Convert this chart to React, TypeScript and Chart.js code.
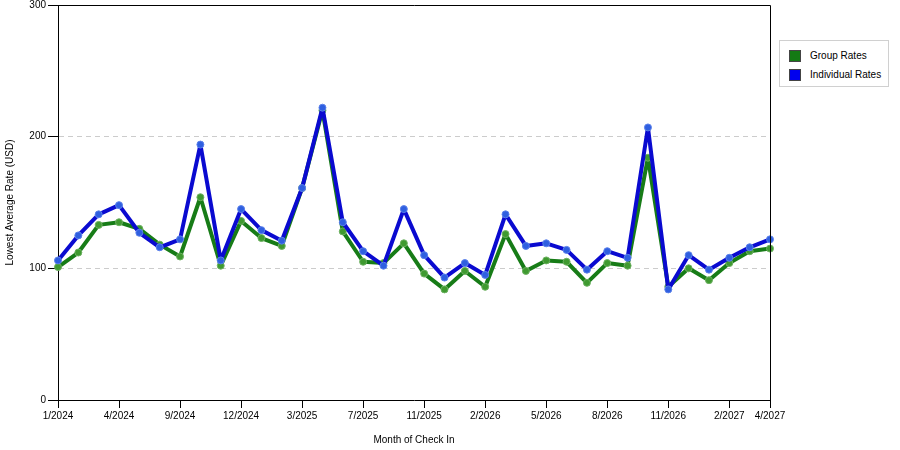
import { useEffect, useRef } from 'react';
import { Chart, ChartConfiguration, Plugin, registerables } from 'chart.js';

Chart.register(...registerables);

// Month labels along the x axis (only every third one is shown, plus the last)
const months = [
  '1/2024', '2/2024', '3/2024', '4/2024', '6/2024', '8/2024',
  '9/2024', '10/2024', '11/2024', '12/2024', '1/2025', '2/2025',
  '3/2025', '4/2025', '5/2025', '7/2025', '8/2025', '9/2025',
  '11/2025', '12/2025', '1/2026', '2/2026', '3/2026', '4/2026',
  '5/2026', '6/2026', '7/2026', '8/2026', '9/2026', '10/2026',
  '11/2026', '12/2026', '1/2027', '2/2027', '3/2027', '4/2027',
];

const groupRates = [
  101, 112, 133, 135, 130, 118, 109, 154, 102, 136, 123, 117,
  161, 220, 128, 105, 104, 119, 96, 84, 98, 86, 126, 98,
  106, 105, 89, 104, 102, 184, 86, 100, 91, 104, 113, 115,
];

const individualRates = [
  106, 125, 141, 148, 127, 116, 122, 194, 106, 145, 129, 121,
  161, 222, 135, 113, 102, 145, 110, 93, 104, 95, 141, 117,
  119, 114, 99, 113, 108, 207, 84, 110, 99, 108, 116, 122,
];

const yTicks = [0, 100, 200, 300];

const GREEN = '#177c17';
const BLUE = '#0a0ad0';
const FONT = { family: '"Liberation Sans", Arial, sans-serif', size: 10 };

// top and right edges of the plot box
const frame: Plugin = {
  id: 'frame',
  afterDraw(chart) {
    const { ctx, chartArea } = chart;
    const r = Math.round(chartArea.right) + 0.5;
    const t = Math.round(chartArea.top) + 0.5;
    ctx.save();
    ctx.strokeStyle = '#000';
    ctx.lineWidth = 1;
    ctx.beginPath();
    ctx.moveTo(chartArea.left, t);
    ctx.lineTo(r, t);
    ctx.lineTo(r, chartArea.bottom);
    ctx.stroke();
    ctx.restore();
  },
};

function RatesChart() {
  const canvasRef = useRef<HTMLCanvasElement>(null);
  const chartRef = useRef<Chart | null>(null);

  useEffect(() => {
    if (!canvasRef.current) return;
    if (chartRef.current) chartRef.current.destroy();

    const lastIndex = months.length - 1;

    const config: ChartConfiguration = {
      type: 'line',
      data: {
        labels: months,
        datasets: [
          {
            label: 'Group Rates',
            data: groupRates,
            borderColor: GREEN,
            borderWidth: 4,
            borderJoinStyle: 'round',
            pointRadius: 3.5,
            pointBackgroundColor: '#3f9a30',
            pointBorderColor: '#6cb060',
            pointBorderWidth: 1,
            tension: 0,
            order: 2,
          },
          {
            label: 'Individual Rates',
            data: individualRates,
            borderColor: BLUE,
            borderWidth: 4,
            borderJoinStyle: 'round',
            pointRadius: 3.5,
            pointBackgroundColor: '#2f5fe0',
            pointBorderColor: '#5a80ea',
            pointBorderWidth: 1,
            tension: 0,
            order: 1,
          },
        ],
      },
      options: {
        animation: false,
        responsive: false,
        layout: { padding: { top: 0, right: 130, left: 0, bottom: 0 } },
        plugins: {
          legend: { display: false },
          tooltip: { enabled: false },
        },
        scales: {
          x: {
            offset: false,
            afterFit: (scale) => { scale.height = 50; },
            ticks: {
              autoSkip: false,
              maxRotation: 0,
              color: '#000',
              font: FONT,
              padding: 2,
              callback: (_v, i) =>
                i % 3 === 0 || i === lastIndex ? months[i] : null,
            },
            grid: {
              drawOnChartArea: false,
              tickLength: 8,
              tickColor: '#000',
            },
            border: { color: '#000', width: 1 },
            title: {
              display: true,
              text: 'Month of Check In',
              color: '#000',
              font: FONT,
              padding: { top: 9 },
            },
          },
          y: {
            min: 0,
            max: 300,
            afterFit: (scale) => {
              scale.width = 58;
              scale.paddingTop = 4;
            },
            afterBuildTicks: (scale) => {
              scale.ticks = yTicks.map((v) => ({ value: v }));
            },
            ticks: {
              color: '#000',
              font: FONT,
              padding: 2,
            },
            grid: {
              tickLength: 10,
              tickColor: '#000',
              color: (ctx) =>
                ctx.tick && (ctx.tick.value === 300 || ctx.tick.value === 0)
                  ? 'transparent'
                  : '#cccccc',
            },
            border: { color: '#000', width: 1, dash: [5, 4] },
            title: {
              display: true,
              text: 'Lowest Average Rate (USD)',
              color: '#000',
              font: FONT,
              padding: { bottom: 6 },
            },
          },
        },
      },
      plugins: [frame],
    };

    chartRef.current = new Chart(canvasRef.current, config);

    return () => {
      if (chartRef.current) {
        chartRef.current.destroy();
        chartRef.current = null;
      }
    };
  }, []);

  return <canvas ref={canvasRef} width={900} height={450} style={{ display: 'block' }} />;
}

function Legend() {
  const item = (color: string, text: string) => (
    <div style={{ display: 'flex', alignItems: 'center', height: 19 }}>
      <span
        style={{
          width: 12,
          height: 12,
          background: color,
          border: '1px solid #444',
          boxSizing: 'border-box',
          marginRight: 9,
        }}
      />
      <span>{text}</span>
    </div>
  );
  return (
    <div
      style={{
        position: 'absolute',
        left: 779,
        top: 40,
        width: 110,
        height: 47,
        boxSizing: 'border-box',
        border: '1px solid #d0d0d0',
        padding: '5px 0 0 9px',
        fontFamily: '"Liberation Sans", Arial, sans-serif',
        fontSize: 10,
        color: '#000',
        background: '#fff',
      }}
    >
      {item('#147a14', 'Group Rates')}
      {item('#0000ee', 'Individual Rates')}
    </div>
  );
}

export default function App() {
  return (
    <div
      style={{
        position: 'fixed',
        left: 0,
        top: 0,
        width: 900,
        height: 450,
        background: '#fff',
      }}
    >
      <RatesChart />
      <Legend />
    </div>
  );
}
